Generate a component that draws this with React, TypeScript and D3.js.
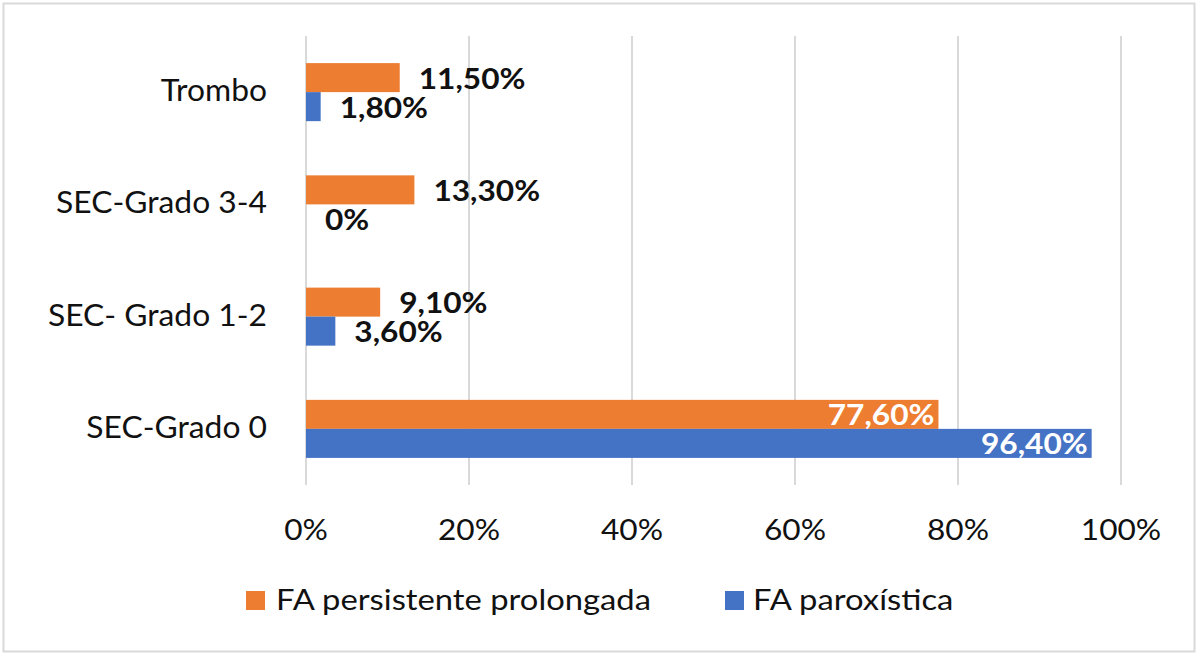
import * as d3 from 'd3'
import type { ReactNode } from 'react'

// categories top to bottom
const categories = ['Trombo', 'SEC-Grado 3-4', 'SEC- Grado 1-2', 'SEC-Grado 0']
const persistente = [11.5, 13.3, 9.1, 77.6]
const paroxistica = [1.8, 0, 3.6, 96.4]
const xTicks = [0, 20, 40, 60, 80, 100]

const seriesNames = ['FA persistente prolongada', 'FA paroxística']
const colors = ['#ED7D31', '#4472C4']

const W = 1200
const H = 655
const font = 'Lato, Carlito, Calibri, sans-serif'
// glyphs are a bit wider than Lato's, so stretch text horizontally
const SX = 1.13

const fmt = (v: number) => (v === 0 ? '0%' : v.toFixed(2).replace('.', ',') + '%')

function Txt(props: {
  x: number
  y: number
  anchor?: 'start' | 'middle' | 'end'
  size: number
  bold?: boolean
  fill?: string
  sx?: number
  children: ReactNode
}) {
  const { x, y, anchor = 'start', size, bold, fill = '#111', sx = SX, children } = props
  return (
    <g transform={`translate(${x},${y}) scale(${sx},1)`}>
      <text
        textAnchor={anchor}
        fontFamily={font}
        fontSize={size}
        fontWeight={bold ? 700 : 400}
        fill={fill}
      >
        {children}
      </text>
    </g>
  )
}

export default function App() {
  const x = d3.scaleLinear().domain([0, 100]).range([306, 1121])
  const y = d3.scaleBand<string>()
    .domain(categories)
    .range([36, 485])
    .paddingInner(0.483)
    .paddingOuter(0.2415)
  const inner = d3.scaleBand<number>().domain([0, 1]).range([0, y.bandwidth()])

  const series = [persistente, paroxistica]

  return (
    <svg width={W} height={H} style={{ position: 'fixed', top: 0, left: 0, background: '#fff' }}>
      <rect x={3.5} y={3.5} width={1191} height={648} fill="#fff" stroke="#D9D9D9" strokeWidth={2} />

      {/* vertical gridlines */}
      {xTicks.map(t => (
        <line key={t} x1={x(t)} x2={x(t)} y1={36} y2={485} stroke="#D9D9D9" strokeWidth={2} />
      ))}

      {/* bars */}
      {series.map((vals, s) =>
        categories.map((c, i) => (
          <rect
            key={`${s}-${c}`}
            x={x(0)}
            y={(y(c) ?? 0) + (inner(s) ?? 0)}
            width={x(vals[i]) - x(0)}
            height={inner.bandwidth()}
            fill={colors[s]}
          />
        ))
      )}

      {/* value labels */}
      {series.map((vals, s) =>
        categories.map((c, i) => {
          const v = vals[i]
          const big = v > 50
          const cy = (y(c) ?? 0) + (inner(s) ?? 0) + inner.bandwidth() / 2
          return (
            <Txt
              key={`l-${s}-${c}`}
              x={big ? x(v) - 4 : x(v) + 19}
              y={cy + 11}
              anchor={big ? 'end' : 'start'}
              size={28}
              bold
              fill={big ? '#fff' : '#111'}
            >
              {fmt(v)}
            </Txt>
          )
        })
      )}

      {/* category labels */}
      {categories.map(c => (
        <Txt key={c} x={267} y={(y(c) ?? 0) + y.bandwidth() / 2 + 9} anchor="end" size={30} sx={1.06}>
          {c}
        </Txt>
      ))}

      {/* x tick labels */}
      {xTicks.map(t => (
        <Txt key={t} x={x(t)} y={540} anchor="middle" size={28}>
          {t}%
        </Txt>
      ))}

      {/* legend */}
      <rect x={246} y={591} width={19} height={19} fill={colors[0]} />
      <Txt x={276} y={609.5} size={29}>{seriesNames[0]}</Txt>
      <rect x={725} y={591} width={19} height={19} fill={colors[1]} />
      <Txt x={753} y={609.5} size={29}>{seriesNames[1]}</Txt>
    </svg>
  )
}
